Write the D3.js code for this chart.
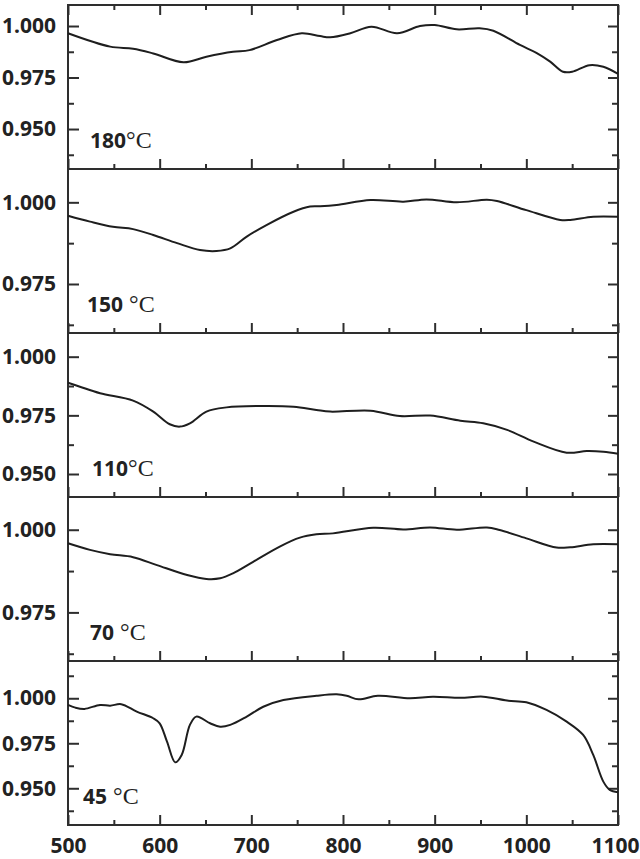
<!DOCTYPE html>
<html><head><meta charset="utf-8">
<script src="https://cdn.jsdelivr.net/npm/d3@7"></script>
<style>body{margin:0;background:#fff}svg{display:block}</style>
</head><body><svg id="c" width="640" height="859"></svg>
<script>
// ---- data ----
const panelNames = ["180", "150", "110", "70", "45"];
const panelSuffix = ["°C", " °C", "°C", " °C", " °C"];
const yDomains = [[0.9306, 1.0102], [0.9600, 1.0102], [0.9402, 1.0101], [0.9603, 1.0099], [0.9296, 1.0207]];
const yMajor = [[0.950, 0.975, 1.000], [0.975, 1.000], [0.950, 0.975, 1.000], [0.975, 1.000], [0.950, 0.975, 1.000]];
const yMinor = [[0.9375, 0.9625, 0.9875], [0.9625, 0.9875], [0.9625, 0.9875], [0.9625, 0.9875], [0.9375, 0.9625, 0.9875, 1.0125]];
const xMajor = [500, 600, 700, 800, 900, 1000, 1100];
const xMinor = [550, 650, 750, 850, 950, 1050];

const s180 = [[500,0.9965],[546,0.9900],[571,0.9890],[593,0.9867],[626,0.9824],[651,0.9851],[680,0.9875],[698,0.9883],[728,0.9932],[755,0.9965],[775,0.9951],[786,0.9945],[808,0.9965],[831,0.9997],[859,0.9965],[884,1.0000],[900,1.0005],[924,0.9984],[949,0.9989],[964,0.9977],[993,0.9908],[1011,0.9870],[1026,0.9827],[1040,0.9778],[1050,0.9778],[1069,0.9810],[1084,0.9802],[1100,0.9768]];
const s150 = [[500,0.9959],[524,0.9941],[549,0.9925],[571,0.9918],[593,0.9900],[619,0.9875],[644,0.9854],[662,0.9851],[677,0.9859],[695,0.9895],[717,0.9931],[746,0.9971],[764,0.9987],[775,0.9988],[793,0.9992],[830,1.0007],[866,1.0002],[891,1.0009],[924,1.0000],[957,1.0008],[968,1.0004],[1000,0.9976],[1037,0.9946],[1048,0.9946],[1073,0.9956],[1100,0.9956]];
const s110 = [[500,0.9889],[513,0.9872],[535,0.9844],[571,0.9813],[593,0.9766],[611,0.9712],[622,0.9702],[633,0.9716],[651,0.9766],[673,0.9784],[710,0.9790],[746,0.9787],[771,0.9773],[786,0.9766],[830,0.9770],[862,0.9747],[895,0.9749],[928,0.9727],[953,0.9716],[979,0.9688],[1008,0.9638],[1044,0.9591],[1066,0.9598],[1084,0.9595],[1100,0.9586]];
const s70 = [[500,0.9959],[524,0.9939],[546,0.9926],[571,0.9917],[597,0.9893],[630,0.9863],[651,0.9851],[666,0.9853],[680,0.9868],[702,0.9903],[731,0.9949],[753,0.9976],[771,0.9986],[789,0.9989],[833,1.0006],[866,1.0001],[895,1.0007],[924,1.0000],[957,1.0007],[971,0.9999],[1000,0.9974],[1033,0.9946],[1048,0.9947],[1073,0.9956],[1100,0.9956]];
const s45 = [[500,0.9963],[508,0.9948],[518,0.9941],[535,0.9963],[546,0.9959],[558,0.9967],[575,0.9926],[593,0.9889],[600,0.9861],[608,0.9759],[617,0.9644],[624,0.9685],[633,0.9852],[640,0.9898],[655,0.9861],[666,0.9842],[677,0.9852],[695,0.9898],[713,0.9953],[735,0.9990],[771,1.0014],[793,1.0022],[804,1.0014],[817,0.9994],[838,1.0014],[873,1.0000],[898,1.0009],[928,1.0003],[953,1.0009],[979,0.9987],[1000,0.9978],[1022,0.9935],[1044,0.9870],[1062,0.9796],[1073,0.9685],[1084,0.9537],[1091,0.9491],[1100,0.9478]];
const seriesList = [s180, s150, s110, s70, s45];

// ---- layout ----
const L = 68, R = 618, top0 = 5, ph = 164;
const svg = d3.select("#c");
const x = d3.scaleLinear().domain([500, 1100]).range([L, R]);
const axisColor = "#2e2e2e";
const sans = "'Noto Sans', 'Open Sans', sans-serif";
const fs = 21;

function styleAxis(g) {
  g.select(".domain").remove();
  g.selectAll(".tick line").attr("stroke", axisColor).attr("stroke-width", 2);
  g.selectAll(".tick text").attr("fill", "#222").attr("font-family", sans)
    .attr("font-weight", 700).attr("font-size", fs);
}

seriesList.forEach((data, i) => {
  const y0 = top0 + i * ph, y1 = y0 + ph;
  const y = d3.scaleLinear().domain(yDomains[i]).range([y1, y0]);
  const g = svg.append("g");
  const last = i === seriesList.length - 1;

  g.append("g").attr("transform", `translate(${L},0)`)
    .call(d3.axisLeft(y).tickValues(yMajor[i]).tickSize(-11).tickPadding(12).tickFormat(d3.format(".3f")))
    .call(styleAxis);
  g.append("g").attr("transform", `translate(${L},0)`)
    .call(d3.axisLeft(y).tickValues(yMinor[i]).tickSize(-6).tickFormat(""))
    .call(styleAxis);
  g.append("g").attr("transform", `translate(${R},0)`)
    .call(d3.axisRight(y).tickValues(yMajor[i]).tickSize(-10).tickFormat(""))
    .call(styleAxis);
  g.append("g").attr("transform", `translate(${R},0)`)
    .call(d3.axisRight(y).tickValues(yMinor[i]).tickSize(-6).tickFormat(""))
    .call(styleAxis);
  const bx = g.append("g").attr("transform", `translate(0,${y1})`)
    .call(d3.axisBottom(x).tickValues(xMajor).tickSize(-10).tickPadding(13).tickFormat(last ? d3.format("d") : ""))
    .call(styleAxis);
  if (last) {
    // keep the last label inside the page
    bx.selectAll(".tick text").filter(d => d === 1100)
      .attr("text-anchor", "end").attr("x", 639 - R);
  }
  g.append("g").attr("transform", `translate(0,${y1})`)
    .call(d3.axisBottom(x).tickValues(xMinor).tickSize(-5).tickFormat(""))
    .call(styleAxis);
  if (i === 0) {
    g.append("g").attr("transform", `translate(0,${y0})`)
      .call(d3.axisTop(x).tickValues(xMajor).tickSize(-10).tickFormat(""))
      .call(styleAxis);
    g.append("g").attr("transform", `translate(0,${y0})`)
      .call(d3.axisTop(x).tickValues(xMinor).tickSize(-5).tickFormat(""))
      .call(styleAxis);
  }
  g.append("rect").attr("x", L).attr("y", y0).attr("width", R - L).attr("height", ph)
    .attr("fill", "none").attr("stroke", axisColor).attr("stroke-width", 2);

  g.append("path").datum(data)
    .attr("fill", "none").attr("stroke", "#1e1e1e").attr("stroke-width", 2)
    .attr("stroke-linejoin", "round")
    .attr("d", d3.line().x(d => x(d[0])).y(d => y(d[1])).curve(d3.curveCatmullRom.alpha(0.5)));

  const lx = [90, 87, 92, 90, 83][i];
  const t = g.append("text").attr("x", lx).attr("y", y1 - 21).attr("fill", "#222");
  t.append("tspan").attr("font-family", sans).attr("font-weight", 700).attr("font-size", fs).text(panelNames[i]);
  t.append("tspan").attr("font-family", "'Liberation Serif', 'Times New Roman', serif")
    .attr("font-size", 24).text(panelSuffix[i]);
});
</script></body></html>
